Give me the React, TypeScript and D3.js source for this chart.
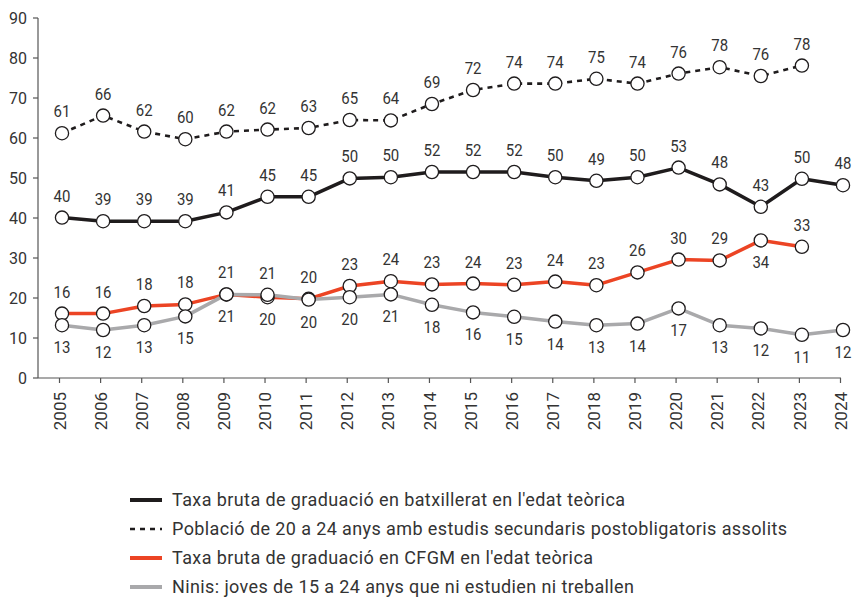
import React from "react";
import * as d3 from "d3";

const years = ["2005","2006","2007","2008","2009","2010","2011","2012","2013","2014","2015","2016","2017","2018","2019","2020","2021","2022","2023","2024"];
const yTicks = [0, 10, 20, 30, 40, 50, 60, 70, 80, 90];

const batxillerat = [40.1, 39.2, 39.2, 39.2, 41.4, 45.3, 45.3, 49.9, 50.2, 51.5, 51.5, 51.5, 50.2, 49.3, 50.2, 52.6, 48.4, 42.8, 49.8, 48.2];
const poblacio: (number | null)[] = [61.2, 65.6, 61.6, 59.7, 61.6, 62.1, 62.5, 64.5, 64.4, 68.5, 72.0, 73.6, 73.6, 74.8, 73.6, 76.1, 77.7, 75.5, 78.1, null];
const cfgm: (number | null)[] = [16.1, 16.1, 18.0, 18.4, 20.9, 20.2, 19.8, 23.0, 24.2, 23.4, 23.6, 23.3, 24.1, 23.2, 26.4, 29.6, 29.4, 34.4, 32.8, null];
const ninis = [13.2, 12.0, 13.2, 15.4, 20.9, 20.8, 19.6, 20.2, 20.9, 18.3, 16.4, 15.3, 14.1, 13.2, 13.6, 17.4, 13.2, 12.4, 10.8, 12.0];

// label placement: 1 = above, -1 = below
const cfgmLabelPos = [1,1,1,1,1,-1,1,1,1,1,1,1,1,1,1,1,1,-1,1,1];
const ninisLabelPos = [-1,-1,-1,-1,-1,1,-1,-1,-1,-1,-1,-1,-1,-1,-1,-1,-1,-1,-1,-1];

const legendLabels = [
  "Taxa bruta de graduació en batxillerat en l'edat teòrica",
  "Població de 20 a 24 anys amb estudis secundaris postobligatoris assolits",
  "Taxa bruta de graduació en CFGM en l'edat teòrica",
  "Ninis: joves de 15 a 24 anys que ni estudien ni treballen",
];

const BLACK = "#1f1c1d";
const RED = "#ec4424";
const GRAY = "#a9a9ab";
const TEXT = "#333333";
const FONT = "Roboto, 'Noto Sans', sans-serif";

export default function App() {
  const W = 854, H = 597;
  const x = d3.scalePoint<string>().domain(years).range([62, 843]);
  const y = d3.scaleLinear().domain([0, 90]).range([378, 18]);
  const axisLeft = 38;
  const axisRight = 841;
  const tickShift = -2.5;
  const legendTextWidths = [453, 615, 421, 462];

  const line = d3.line<number | null>()
    .defined((d) => d !== null)
    .x((_, i) => x(years[i]) as number)
    .y((d) => y(d as number));

  const series = [
    { key: "batx", values: batxillerat as (number | null)[], color: BLACK, width: 3.5, dash: undefined as string | undefined, pos: years.map(() => 1) },
    { key: "pob", values: poblacio, color: BLACK, width: 2.6, dash: "5,5", pos: years.map(() => 1) },
    { key: "cfgm", values: cfgm, color: RED, width: 3.5, dash: undefined, pos: cfgmLabelPos },
    { key: "ninis", values: ninis as (number | null)[], color: GRAY, width: 3.5, dash: undefined, pos: ninisLabelPos },
  ];

  const legendColors = [BLACK, BLACK, RED, GRAY];
  const legendDash = [undefined, "5,5", undefined, undefined];
  const legendY = d3.scaleLinear().domain([0, 3]).range([500, 587]);

  return (
    <svg width={W} height={H} style={{ position: "absolute", left: 0, top: 0, background: "#fff" }} fontFamily={FONT}>
      {/* axes */}
      <line x1={axisLeft} x2={axisLeft} y1={y(90)} y2={y(0)} stroke="#555" strokeWidth={1.2} />
      <line x1={axisLeft} x2={axisRight} y1={y(0)} y2={y(0)} stroke="#555" strokeWidth={1.2} />
      {yTicks.map((t) => (
        <g key={t}>
          <line x1={axisLeft - 5} x2={axisLeft} y1={y(t)} y2={y(t)} stroke="#555" strokeWidth={1.2} />
          <text x={axisLeft - 11} y={y(t)} dy="0.36em" textAnchor="end" fontSize={16} fill={TEXT}>{t}</text>
        </g>
      ))}
      {years.map((yr) => {
        const xx = (x(yr) as number) + tickShift;
        return (
          <g key={yr}>
            <line x1={xx} x2={xx} y1={y(0)} y2={y(0) + 5} stroke="#555" strokeWidth={1.2} />
            <text transform={`translate(${xx},${y(0) + 14}) rotate(-90)`} dy="0.36em" textAnchor="end" fontSize={17} fill={TEXT}>{yr}</text>
          </g>
        );
      })}

      {/* lines */}
      {series.map((s) => (
        <path key={s.key} d={line(s.values) || ""} fill="none" stroke={s.color} strokeWidth={s.width} strokeDasharray={s.dash} strokeLinejoin="round" />
      ))}

      {/* markers */}
      {series.map((s) => (
        <g key={s.key + "-m"}>
          {s.values.map((v, i) => v === null ? null : (
            <circle key={i} cx={x(years[i]) as number} cy={y(v)} r={6.6} fill="#fff" stroke={BLACK} strokeWidth={1.3} />
          ))}
        </g>
      ))}

      {/* labels */}
      {series.map((s) => (
        <g key={s.key + "-l"}>
          {s.values.map((v, i) => v === null ? null : (
            <text key={i} transform={`translate(${x(years[i]) as number},${y(v) + (s.pos[i] > 0 ? -16 : 28)}) scale(0.88,1)`} textAnchor="middle" fontSize={17} fill={TEXT}>
              {Math.round(v)}
            </text>
          ))}
        </g>
      ))}

      {/* legend */}
      {legendLabels.map((lab, i) => (
        <g key={lab}>
          <line x1={130} x2={162} y1={legendY(i)} y2={legendY(i)} stroke={legendColors[i]} strokeWidth={i === 1 ? 2.6 : 4} strokeDasharray={legendDash[i]} />
          <text x={172} y={legendY(i)} dy="0.36em" fontSize={18} fill={TEXT} textLength={legendTextWidths[i]} lengthAdjust="spacing">{lab}</text>
        </g>
      ))}
    </svg>
  );
}
